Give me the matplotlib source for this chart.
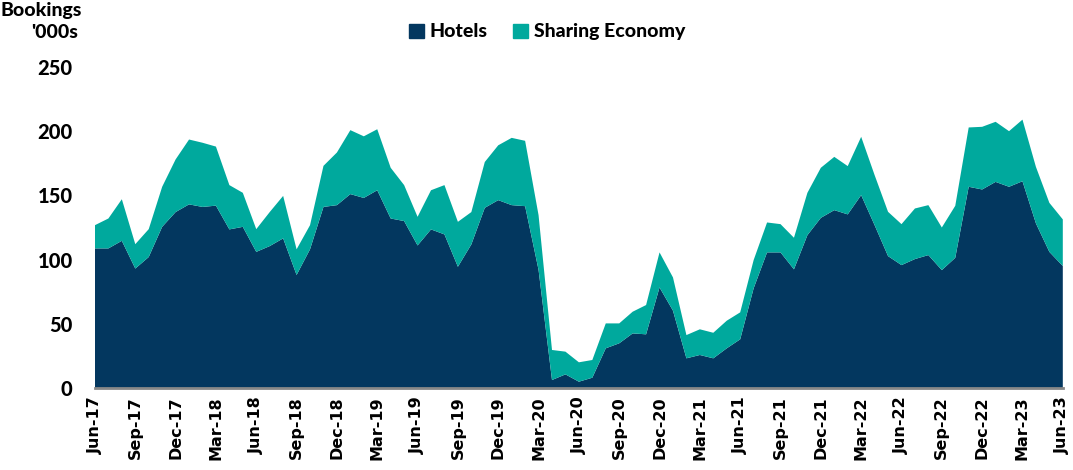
import numpy as np
import pandas as pd
import matplotlib
matplotlib.use("Agg")
import matplotlib.pyplot as plt
from matplotlib.patches import Patch

# monthly bookings ('000s), Jun-17 .. Jun-23
months = pd.date_range("2017-06-01", "2023-06-01", freq="MS")

hotels = [108.7, 108.7, 114.6, 93.0, 102.0, 125.5, 137.0, 143.0, 141.0, 142.0,
          123.5, 125.5, 106.0, 110.5, 116.5, 88.0, 108.0, 141.0, 142.4, 151.0,
          148.0, 154.0, 132.0, 130.0, 111.0, 123.5, 119.6, 94.4, 111.8, 140.3,
          146.3, 142.4, 141.6, 92.0, 6.2, 10.6, 4.9, 8.0, 30.9, 34.8,
          42.5, 41.8, 78.3, 60.2, 23.1, 25.7, 23.1, 30.9, 37.9, 77.6,
          105.6, 105.6, 92.4, 119.0, 132.5, 138.5, 135.2, 150.2, 126.8, 102.7,
          95.7, 100.4, 103.5, 91.8, 101.4, 156.7, 154.6, 160.5, 156.7, 161.0,
          128.2, 106.0, 95.0]

total = [126.8, 132.0, 147.0, 112.0, 123.7, 156.7, 178.0, 193.5, 191.0, 188.0,
         158.0, 152.0, 123.7, 137.0, 149.6, 108.0, 126.8, 173.0, 183.4, 200.8,
         196.0, 201.5, 171.5, 158.0, 133.3, 154.0, 158.0, 129.4, 137.0, 176.0,
         189.0, 194.8, 192.5, 134.6, 29.6, 28.3, 20.0, 21.8, 50.3, 50.3,
         59.4, 64.6, 105.6, 86.1, 41.2, 45.7, 43.0, 52.4, 58.9, 99.6,
         128.9, 127.6, 117.0, 152.0, 171.5, 180.0, 172.8, 195.6, 165.8, 137.2,
         127.6, 139.8, 142.4, 125.0, 141.9, 202.9, 203.4, 207.3, 200.0, 209.0,
         172.2, 144.2, 131.3]

sharing = [round(t - h, 1) for t, h in zip(total, hotels)]

navy = "#03375F"
teal = "#00A99D"
head = ["Lato", "DejaVu Sans"]

fig = plt.figure(figsize=(10.73, 4.70), dpi=100)
ax = fig.add_axes([0.0885, 0.1745, 0.902, 0.683])

x = np.arange(len(months))
ax.stackplot(x, hotels, sharing, colors=[navy, teal], linewidth=0)

ax.set_xlim(0, len(months) - 1)
ax.set_ylim(0, 250)
ax.set_yticks([0, 50, 100, 150, 200, 250])
ax.set_yticklabels(["0", "50", "100", "150", "200", "250"],
                   fontsize=14.5, fontweight=900, family=head)

ticks = x[::3]
ax.set_xticks(ticks)
ax.set_xticklabels([months[i].strftime("%b-%y") for i in ticks],
                   rotation=90, fontsize=11.5, fontweight="bold")
ax.tick_params(axis="y", length=0, pad=16)
ax.tick_params(axis="x", length=0, pad=6)

for s in ["top", "right", "left"]:
    ax.spines[s].set_visible(False)
ax.spines["bottom"].set_color("#888888")
ax.spines["bottom"].set_linewidth(2)

fig.text(0.0, 0.995, "Bookings", fontsize=14, fontweight=900,
         family=head, ha="left", va="top")
fig.text(0.073, 0.948, "'000s", fontsize=14, fontweight=900,
         family=head, ha="right", va="top")

handles = [Patch(color=navy, label="Hotels"), Patch(color=teal, label="Sharing Economy")]
fig.legend(handles=handles, loc="center", bbox_to_anchor=(0.51, 0.932), ncol=2,
           frameon=False, handlelength=0.75, handleheight=0.75, handletextpad=0.3,
           columnspacing=1.3, prop={"family": head, "weight": 900, "size": 14})

fig.savefig("out.png", dpi=100)
